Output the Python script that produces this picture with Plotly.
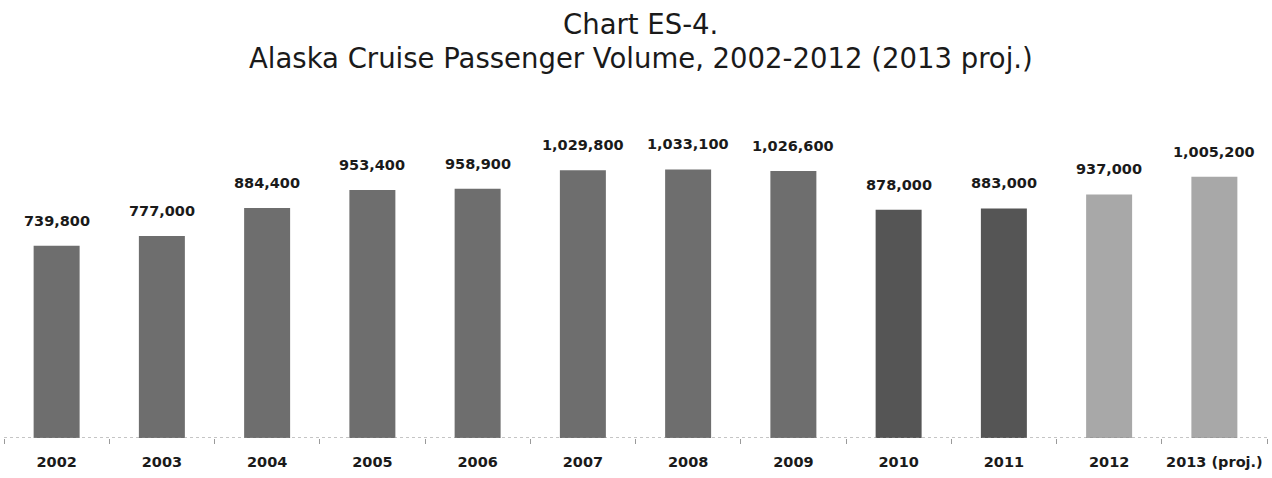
import plotly.graph_objects as go

years = ["2002", "2003", "2004", "2005", "2006", "2007", "2008", "2009", "2010", "2011", "2012", "2013 (proj.)"]
passengers = [739800, 777000, 884400, 953400, 958900, 1029800, 1033100, 1026600, 878000, 883000, 937000, 1005200]
bar_colors = ["#6e6e6e"] * 8 + ["#555555"] * 2 + ["#a8a8a8"] * 2
title_line1 = "Chart ES-4."
title_line2 = "Alaska Cruise Passenger Volume, 2002-2012 (2013 proj.)"

fig = go.Figure()
fig.add_trace(go.Bar(
    x=years, y=passengers,
    marker=dict(color=bar_colors, line=dict(width=0)),
    hoverinfo="x+y",
))

annotations = []
for i, v in enumerate(passengers):
    annotations.append(dict(
        x=i, y=v, xref="x", yref="y", text=f"{v:,}", showarrow=False,
        yanchor="bottom", yshift=15,
        font=dict(family="DejaVu Sans", size=14.5, color="#1a1a1a", weight="bold"),
    ))
annotations.append(dict(x=0.504, y=1.327, xref="paper", yref="paper", text=title_line1,
                        showarrow=False, xanchor="center", yanchor="middle",
                        font=dict(family="DejaVu Sans", size=27.5, color="#1a1a1a")))
annotations.append(dict(x=0.504, y=1.217, xref="paper", yref="paper", text=title_line2,
                        showarrow=False, xanchor="center", yanchor="middle",
                        font=dict(family="DejaVu Sans", size=27.5, color="#1a1a1a")))

fig.update_layout(
    width=1272, height=478,
    margin=dict(l=4, r=5, t=126, b=40),
    paper_bgcolor="white", plot_bgcolor="white",
    bargap=0.563,
    showlegend=False,
    annotations=annotations,
    shapes=[dict(type="line", xref="paper", yref="y", x0=0, x1=1, y0=0, y1=0,
                 line=dict(color="#8a8a8a", width=1, dash="dot"))],
    xaxis=dict(
        type="category",
        range=[-0.5, len(years) - 0.5],
        automargin=False, tickangle=0,
        showline=False, showgrid=False, zeroline=False,
        ticks="outside", tickson="boundaries", ticklen=5, tickcolor="#9a9a9a", tickwidth=1,
        ticklabelstandoff=13,
        tickfont=dict(family="DejaVu Sans", size=14.5, color="#1a1a1a", weight="bold"),
    ),
    yaxis=dict(range=[0, 1200000], visible=False, showgrid=False, zeroline=False, automargin=False),
)

fig.write_html("out.html")
